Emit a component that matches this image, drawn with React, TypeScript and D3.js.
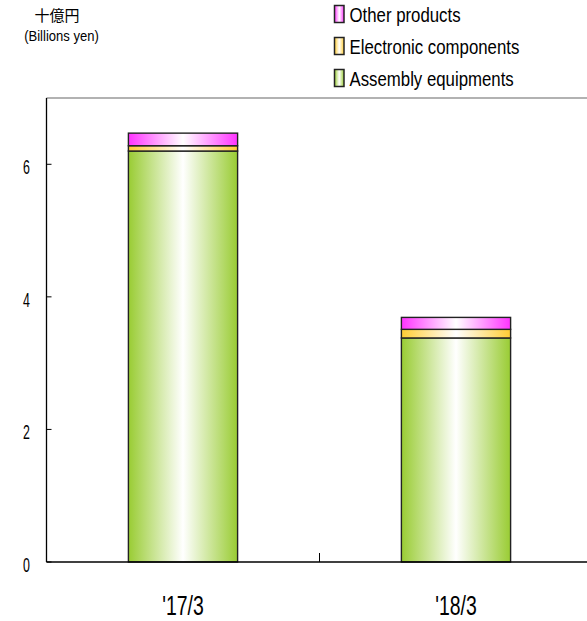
import React from "react";
import * as d3 from "d3";

const categories = ["'17/3", "'18/3"];
const assembly = [6.2, 3.38];
const electronic = [0.08, 0.13];
const other = [0.19, 0.18];
const yTicks = [0, 2, 4, 6];
const seriesNames = ["Assembly equipments", "Electronic components", "Other products"];
const seriesColors = ["#99CC33", "#FFCC33", "#FF33FF"];

const W = 587;
const H = 621;
const margin = { left: 46.5, top: 98, bottom: 562 };
const FONT = "'Liberation Sans', Arial, sans-serif";

function NText({ x, y, sx, size, anchor, children, family }: any) {
  return (
    <text
      transform={`translate(${x},${y}) scale(${sx},1)`}
      textAnchor={anchor || "start"}
      fontFamily={family || FONT}
      fontSize={size}
      fill="#000"
    >
      {children}
    </text>
  );
}

export default function App() {
  const x = d3.scaleBand().domain(categories).range([margin.left, margin.left + 546]).paddingInner(0.6).paddingOuter(0.3);
  const y = d3.scaleLinear().domain([0, 7]).range([margin.bottom, margin.top]);

  const rows = categories.map((c, i) => ({ cat: c, a: assembly[i], e: electronic[i], o: other[i] }));
  const stack = d3.stack<any>().keys(["a", "e", "o"])(rows);

  const legendOrder = [2, 1, 0];

  return (
    <svg width={W} height={H} style={{ position: "absolute", left: 0, top: 0 }}>
      <defs>
        {seriesColors.map((c, i) => (
          <linearGradient key={i} id={`g${i}`} x1="0" x2="1" y1="0" y2="0">
            <stop offset="0%" stopColor={c} />
            <stop offset="50%" stopColor="#ffffff" />
            <stop offset="100%" stopColor={c} />
          </linearGradient>
        ))}
      </defs>
      <rect width={W} height={H} fill="#fff" />
      <line x1={margin.left} x2={W} y1={y(7)} y2={y(7)} stroke="#999" strokeWidth={1.5} />
      {stack.map((s, si) =>
        s.map((d, i) => (
          <rect
            key={`${si}-${i}`}
            x={x(categories[i])!}
            width={x.bandwidth()}
            y={y(d[1])}
            height={y(d[0]) - y(d[1])}
            fill={`url(#g${si})`}
            stroke="#222"
            strokeWidth={1.4}
          />
        ))
      )}
      <line x1={margin.left} x2={margin.left} y1={y(7)} y2={y(0)} stroke="#000" strokeWidth={1.3} />
      <line x1={margin.left} x2={W} y1={y(0)} y2={y(0)} stroke="#000" strokeWidth={1.5} />
      {yTicks.map((t) => (
        <g key={t}>
          <line x1={margin.left} x2={margin.left + 5} y1={y(t)} y2={y(t)} stroke="#000" strokeWidth={1} />
          <NText x={30} y={y(t) + 10} sx={0.62} size={20} anchor="end">
            {t}
          </NText>
        </g>
      ))}
      <line x1={margin.left + 273} x2={margin.left + 273} y1={y(0)} y2={y(0) - 9} stroke="#000" strokeWidth={1} />
      {categories.map((c) => (
        <NText key={c} x={x(c)! + x.bandwidth() / 2} y={615} sx={0.72} size={27} anchor="middle">
          {c}
        </NText>
      ))}
      <text x={57} y={21} textAnchor="middle" fontFamily="'Noto Sans CJK JP', sans-serif" fontSize={15} fill="#000">
        十億円
      </text>
      <NText x={61.5} y={41} sx={0.87} size={15} anchor="middle">
        (Billions yen)
      </NText>
      {legendOrder.map((si, k) => (
        <g key={si} transform={`translate(334.5, ${5.5 + k * 32})`}>
          <rect width={9.5} height={17} fill={`url(#g${si})`} stroke="#222" strokeWidth={1.5} />
          <NText x={15} y={16} sx={0.8} size={21}>
            {seriesNames[si]}
          </NText>
        </g>
      ))}
    </svg>
  );
}
